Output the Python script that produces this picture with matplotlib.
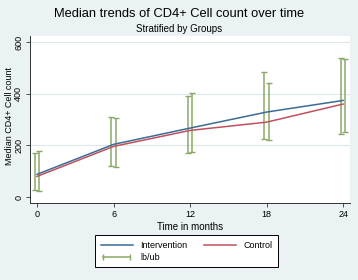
import matplotlib.pyplot as plt
from matplotlib.lines import Line2D
from matplotlib.legend_handler import HandlerLine2D

plt.rcParams['font.family'] = ['Liberation Sans', 'DejaVu Sans']

months = [0, 6, 12, 18, 24]
intervention = [88, 204, 267, 329, 374]
control = [80, 196, 258, 290, 360]
# confidence limits, two caps per time point
lb_a = [27, 122, 169, 223, 243]
ub_a = [169, 310, 392, 486, 537]
lb_b = [24, 118, 173, 219, 251]
ub_b = [180, 306, 404, 443, 533]

bg = '#eaf2f3'
blue = '#3b6c94'
red = '#c0505e'
green = '#8aa86a'

fig = plt.figure(figsize=(3.58, 2.80), dpi=100, facecolor=bg)
ax = fig.add_axes([0.084, 0.275, 0.894, 0.596])
ax.set_facecolor('white')

for lb, ub, off in [(lb_a, ub_a, -0.17), (lb_b, ub_b, 0.17)]:
    x = [m + off for m in months]
    mid = [(l + u) / 2 for l, u in zip(lb, ub)]
    err = [[m - l for m, l in zip(mid, lb)], [u - m for u, m in zip(ub, mid)]]
    ax.errorbar(x, mid, yerr=err, fmt='none', ecolor=green, elinewidth=1.1,
                capsize=2.2, capthick=1.0, zorder=3)

ax.plot(months, intervention, color=blue, lw=1.1, zorder=4)
ax.plot(months, control, color=red, lw=1.1, zorder=4)

ax.set_xlim(-0.55, 24.55)
ax.set_ylim(-23, 623)
ax.set_xticks(months)
ax.set_yticks([0, 200, 400, 600])
for y in [200, 400, 600]:
    ax.axhline(y, color='#dde8ec', lw=0.8, zorder=1)
ax.tick_params(axis='both', labelsize=6.5, length=3, width=0.6, color='#333333', pad=2)
for lab in ax.get_yticklabels():
    lab.set_rotation(90)
    lab.set_va('center')
for s in ['top', 'right']:
    ax.spines[s].set_visible(False)
for s in ['left', 'bottom']:
    ax.spines[s].set_color('#333333')
    ax.spines[s].set_linewidth(0.7)

ax.set_xlabel('Time in months', fontsize=7, labelpad=2)
ax.set_ylabel('Median CD4+ Cell count', fontsize=6.5)
ax.yaxis.set_label_coords(-0.05, 0.52)

fig.text(0.5, 0.95, 'Median trends of CD4+ Cell count over time', ha='center', va='center', fontsize=9.3)
fig.text(0.5, 0.895, 'Stratified by Groups', ha='center', va='center', fontsize=7)

h_int = Line2D([], [], color=blue, lw=1.1)
h_ctl = Line2D([], [], color=red, lw=1.1)
h_ci = Line2D([], [], color=green, lw=1.1, marker='|', markersize=4, markeredgewidth=1.0)
leg = fig.legend([h_int, h_ci, h_ctl], ['Intervention', 'lb/ub', 'Control'], ncol=2,
                 loc='center', bbox_to_anchor=(0.521, 0.102), fontsize=6.5,
                 frameon=True, fancybox=False, edgecolor='black', framealpha=1,
                 handlelength=3.6, columnspacing=1.8, borderpad=0.6, labelspacing=0.35,
                 handler_map={h_ci: HandlerLine2D(numpoints=2)})
leg.get_frame().set_linewidth(0.7)

fig.savefig('out.png', dpi=100, facecolor=bg)
